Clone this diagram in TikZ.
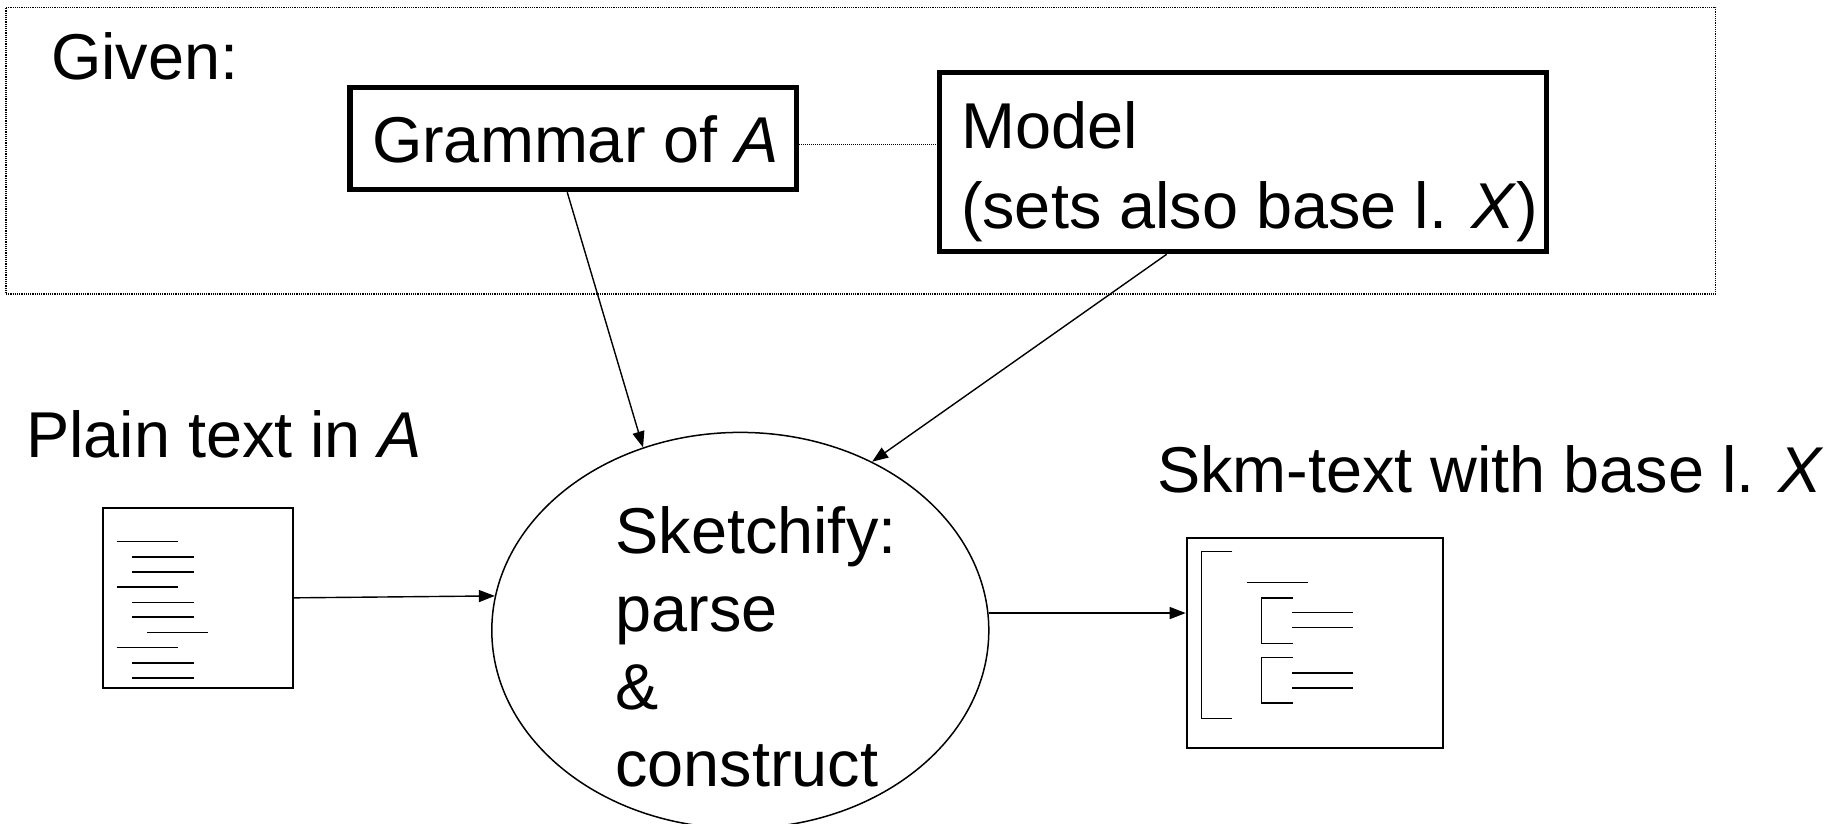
\documentclass[tikz,border=0pt]{standalone}
\usepackage{fontspec}
\setmainfont{Liberation Sans}
\usetikzlibrary{shapes.geometric,arrows.meta}
\begin{document}
\begin{tikzpicture}[x=1pt,y=-1pt,
  lbl/.style={anchor=base west, inner sep=0pt, outer sep=0pt, font=\fontsize{64.8}{78}\selectfont},
  givenbox/.style={draw, line width=5.5pt, inner sep=0pt},
  conn/.style={line width=1.4pt, -{Triangle[length=16pt,width=12pt]}},
  framebox/.style={draw, line width=1.2pt, dash pattern=on 1.2pt off 1pt, inner sep=0pt, outer sep=0pt},
  thindot/.style={line width=1pt, dash pattern=on 1pt off 1pt},
  docbox/.style={draw, line width=1.8pt, inner sep=0pt},
  docline/.style={line width=1.5pt}]
\useasboundingbox (0,0) rectangle (1836,824);
\fill[white] (0,0) rectangle (1836,824);

% frame
\node[framebox, minimum width=1709.7pt, minimum height=286.7pt] (given) at (860.85,150.65) {};
\node[lbl] (tgiven) at (51,80) {Given:};

% boxes
\node[givenbox, minimum width=446.5pt, minimum height=102pt] (gram) at (573.25,138.5) {};
\node[lbl] (tgram) at (372,162.3) {Grammar of \textit{A}};
\node[givenbox, minimum width=607pt, minimum height=179pt] (model) at (1243,162) {};
\node[lbl] (tmodel1) at (961.4,148.3) {Model};
\node[lbl] (tmodel2) at (961,228.3) {(sets also base l. \textit{X})};

% ellipse
\node[draw, ellipse, line width=1.5pt, minimum width=497pt, minimum height=396pt, inner sep=0pt] (sk) at (740.3,630.4) {};
\node[lbl] (s1) at (615.5,553.5) {Sketchify:};
\node[lbl] (s2) at (615.5,631.3) {parse};
\node[lbl] (s3) at (615.5,709) {\&};
\node[lbl] (s4) at (615.5,786.8) {construct};

% plain text document
\node[lbl] (tplain) at (26,457.3) {Plain text in \textit{A}};
\node[docbox, minimum width=190.5pt, minimum height=180.5pt] (plain) at (197.85,597.85) {};
\foreach \y in {541.7,587,647.7} \draw[docline] (116.7,\y) -- (178.3,\y);
\foreach \y in {557,572,602.3,617,663,678} \draw[docline] (132.3,\y) -- (193.7,\y);
\draw[docline] (147.3,632.7) -- (208.3,632.7);

% skm-text document
\node[lbl] (tskm) at (1157,492.7) {Skm-text with base l. \textit{X}};
\node[docbox, minimum width=256.5pt, minimum height=209.9pt] (skm) at (1314.85,643.15) {};
\draw[docline] (1232.3,551.7) -- (1201.7,551.7) -- (1201.7,718.3) -- (1232.3,718.3);
\draw[docline] (1246.7,582.3) -- (1308,582.3);
\draw[docline] (1293,598) -- (1261.7,598) -- (1261.7,643.3) -- (1293,643.3);
\draw[docline] (1292.3,612.7) -- (1353.3,612.7);
\draw[docline] (1292.3,627.7) -- (1353.3,627.7);
\draw[docline] (1293,657.7) -- (1261.7,657.7) -- (1261.7,703) -- (1293,703);
\draw[docline] (1292.3,673) -- (1353.3,673);
\draw[docline] (1292.3,688) -- (1353.3,688);

% connectors
\coordinate (dl) at ([yshift=-5.8pt]gram.east);
\draw[thindot] (dl) -- (dl -| model.west);
\draw[conn] ([xshift=-6pt]gram.south) -- (sk.118.3);
\draw[conn] ([xshift=-76.3pt]model.south) -- (sk.52.52);
\draw[conn] (plain.east) -- (sk.172.47);
\draw[conn] (sk.4.07) -- (sk.4.07 -| skm.west);
\end{tikzpicture}
\end{document}
